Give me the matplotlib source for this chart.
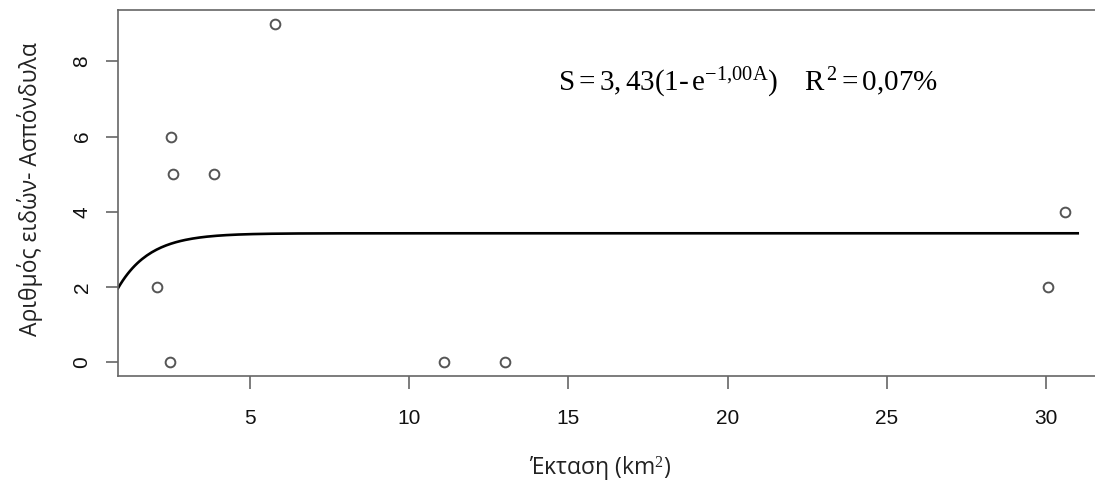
import matplotlib
matplotlib.use("Agg")
import matplotlib.pyplot as plt
import numpy as np

# Observed islands: area (km2) and number of invertebrate species
area = [2.08, 2.49, 2.52, 2.58, 3.86, 5.79, 11.1, 13.0, 30.06, 30.6]
species = [2, 0, 6, 5, 5, 9, 0, 0, 2, 4]

# Fitted saturation model S = a(1 - exp(-b A))
fit_a = 3.43
fit_b = 1.00
curve_range = (0.855, 31.0)

x_ticks = [5, 10, 15, 20, 25, 30]
y_ticks = [0, 2, 4, 6, 8]

plt.rcParams["mathtext.fontset"] = "custom"
plt.rcParams["mathtext.rm"] = "Liberation Serif"
plt.rcParams["mathtext.it"] = "Liberation Serif:italic"

W, H = 1095, 493
fig = plt.figure(figsize=(W / 100, H / 100), dpi=100)
# plot box runs slightly past the right edge of the canvas
left, right, top, bottom = 118, 1100, 10, 376
ax = fig.add_axes([left / W, 1 - bottom / H, (right - left) / W, (bottom - top) / H])

xs = np.linspace(curve_range[0], curve_range[1], 400)
ax.plot(xs, fit_a * (1 - np.exp(-fit_b * xs)), color="black", lw=1.9, zorder=2)
ax.plot(area, species, "o", mfc="white", mec="#555555", mew=1.4, ms=7, zorder=3)

ax.set_xlim(0.855, 31.7)
ax.set_ylim(-0.36, 9.36)
ax.set_xticks(x_ticks)
ax.set_yticks(y_ticks)

grey = "#666666"
for s in ax.spines.values():
    s.set_color(grey)
    s.set_linewidth(1.2)
ax.tick_params(axis="both", direction="out", length=9, width=1.2, color=grey,
               labelsize=15, labelcolor="#111111")
ax.tick_params(axis="x", pad=15)
ax.tick_params(axis="y", pad=10)
for lab in ax.get_xticklabels() + ax.get_yticklabels():
    lab.set_family("Liberation Sans")
for lab in ax.get_yticklabels():
    lab.set_rotation(90)
    lab.set_va("center")

ax.set_ylabel("Αριθμός ειδών- Ασπόνδυλα", family="Open Sans", fontsize=16.5, color="#222222")
ax.yaxis.set_label_coords(-0.076, 0.51)
ax.set_xlabel("Έκταση (km$^2$)", family="Open Sans", fontsize=16.5, color="#222222")
ax.xaxis.set_label_coords(0.491, -0.215)

eq = (r"$\mathrm{S} = 3,43(1\text{-}\,\mathrm{e}^{-1{,}00\mathrm{A}})\quad\;"
      r"\mathrm{R}^{\,2} = 0{,}07\%$")
# transform=None places the equation in display pixels from the bottom-left
ax.text(558, H - 83, eq, transform=None, fontsize=21, va="center", ha="left")

fig.savefig("out.png", dpi=100)
